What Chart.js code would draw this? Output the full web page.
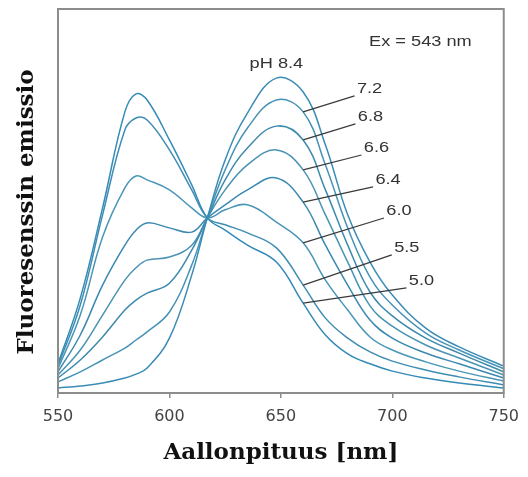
<!DOCTYPE html>
<html>
<head>
<meta charset="utf-8">
<title>Fluoresenssin emissio</title>
<script src="https://cdn.jsdelivr.net/npm/chart.js@4.4.0/dist/chart.umd.min.js"></script>
<style>
    html, body { margin: 0; padding: 0; background: #ffffff; }
    canvas { display: block; }
</style>
</head>
<body>
<canvas id="spectraChart" width="528" height="477"></canvas>
<script>
const wavelengths = [550, 560, 570, 580, 585, 590, 600, 610, 617, 625, 635, 648, 660, 670, 680, 690, 700, 715, 730, 750];

// Emission intensity (arbitrary units, 0-100) per pH
const ph84 = [1.3, 1.8, 2.6, 3.9, 4.9, 6.5, 14.3, 30.7, 45.6, 60.7, 72.9, 82.0, 78.4, 64.6, 46.4, 34.1, 25.5, 16.9, 12.0, 7.0];
const ph72 = [2.9, 5.5, 8.6, 11.7, 13.8, 15.9, 21.1, 33.3, 45.6, 58.1, 69.0, 76.3, 73.2, 59.4, 43.0, 30.2, 22.9, 15.6, 11.2, 6.3];
const ph68 = [3.9, 8.6, 14.6, 21.6, 24.2, 26.0, 28.6, 37.2, 45.6, 55.5, 63.8, 69.5, 65.9, 52.9, 38.5, 26.3, 20.1, 14.3, 10.4, 5.5];
const ph66 = [4.7, 11.2, 20.3, 29.4, 32.6, 34.6, 35.4, 38.5, 45.6, 52.9, 59.4, 63.3, 58.1, 46.4, 34.1, 22.7, 17.4, 12.5, 9.1, 4.7];
const ph64 = [5.5, 15.1, 28.1, 38.5, 42.4, 44.3, 43.0, 41.9, 45.6, 49.0, 52.9, 56.0, 49.7, 38.5, 28.1, 19.0, 14.3, 10.4, 7.6, 3.9];
const ph60 = [6.3, 20.3, 40.6, 53.4, 56.5, 55.5, 52.9, 48.2, 45.6, 47.7, 49.0, 44.5, 39.1, 29.4, 21.6, 14.6, 11.2, 8.1, 5.7, 3.1];
const ph55 = [7.0, 22.9, 46.4, 68.5, 71.6, 71.1, 63.3, 52.9, 45.6, 43.8, 41.7, 37.8, 28.1, 19.5, 14.3, 10.7, 8.3, 6.0, 4.2, 2.1];
const ph50 = [7.6, 24.7, 48.2, 73.2, 77.9, 76.3, 65.9, 54.2, 45.6, 42.4, 38.5, 34.1, 23.4, 15.1, 10.2, 7.6, 5.7, 3.9, 2.6, 1.3];

const seriesNames = ['8.4', '7.2', '6.8', '6.6', '6.4', '6.0', '5.5', '5.0'];
const seriesValues = [ph84, ph72, ph68, ph66, ph64, ph60, ph55, ph50];
const xTicks = [550, 600, 650, 700, 750];

// Label text positions (nm, intensity) for the pH labels with leader lines
const labelX = [null, 689.8, 690.2, 692.9, 698.1, 703.0, 706.5, 713.1];
const labelY = [null, 79.2, 71.9, 63.8, 55.5, 47.4, 37.8, 29.2];

const lineColors = ['#3a8cb6', '#4693b5', '#3d8aad', '#4a94b3', '#3b89b1', '#4996b6', '#3e8db3', '#348ab8'];

// draws frame, pH labels, leader lines and y title
const annotations = {
    id: 'annotations',
    afterDatasetsDraw(chart) {
        const ctx = chart.ctx;
        const area = chart.chartArea;
        const xs = chart.scales.x;
        const ys = chart.scales.y;

        ctx.save();
        ctx.strokeStyle = '#8c8c8c';
        ctx.lineWidth = 2;
        ctx.strokeRect(area.left, area.top, area.right - area.left, area.bottom - area.top);

        const drawText = (txt, cx, cy) => {
            ctx.save();
            ctx.translate(cx, cy);
            ctx.scale(1.3, 1);
            ctx.fillText(txt, 0, 0);
            ctx.restore();
        };

        ctx.font = '14px "Liberation Sans", Arial, sans-serif';
        ctx.fillStyle = '#333333';
        ctx.textAlign = 'center';
        ctx.textBaseline = 'middle';

        // leader lines from the curve at 660 nm to the label
        const idx = wavelengths.indexOf(660);
        ctx.strokeStyle = '#3a3a3a';
        ctx.lineWidth = 1.2;
        for (let i = 1; i < seriesNames.length; i++) {
            const tx = xs.getPixelForValue(labelX[i]);
            const ty = ys.getPixelForValue(labelY[i]);
            ctx.beginPath();
            ctx.moveTo(xs.getPixelForValue(660), ys.getPixelForValue(seriesValues[i][idx]));
            ctx.lineTo(tx - 15, ty + 7);
            ctx.stroke();
            drawText(seriesNames[i], tx, ty);
        }
        drawText('pH ' + seriesNames[0], xs.getPixelForValue(648.0), ys.getPixelForValue(85.7));
        drawText('Ex = 543 nm', xs.getPixelForValue(712.6), ys.getPixelForValue(91.4));

        // y axis title
        ctx.font = 'bold 23px "DejaVu Serif", serif';
        ctx.fillStyle = '#111111';
        ctx.translate(27, 212);
        ctx.rotate(-Math.PI / 2);
        ctx.fillText('Fluoresenssin emissio', 0, 0);
        ctx.restore();
    }
};

new Chart(document.getElementById('spectraChart').getContext('2d'), {
    type: 'line',
    data: {
        datasets: seriesValues.map((vals, i) => ({
            label: 'pH ' + seriesNames[i],
            data: vals.map((v, j) => ({ x: wavelengths[j], y: v })),
            borderColor: lineColors[i],
            borderWidth: 1.5,
            pointRadius: 0,
            fill: false,
            tension: 0.4
        }))
    },
    options: {
        responsive: false,
        animation: false,
        layout: { padding: { top: 9, right: 15, left: 0, bottom: 0 } },
        plugins: {
            legend: { display: false },
            tooltip: { enabled: false }
        },
        scales: {
            x: {
                type: 'linear',
                min: 550,
                max: 750,
                afterBuildTicks: axis => { axis.ticks = xTicks.map(v => ({ value: v })); },
                afterFit: axis => { axis.height = 84; },
                border: { display: false },
                grid: { display: true, drawOnChartArea: false, drawTicks: true, tickLength: 5, color: '#8c8c8c', lineWidth: 1.5 },
                ticks: {
                    color: '#444444',
                    padding: 9,
                    maxRotation: 0,
                    font: { family: '"DejaVu Sans", sans-serif', size: 16 }
                },
                title: {
                    display: true,
                    text: 'Aallonpituus [nm]',
                    color: '#111111',
                    padding: { top: 0, bottom: 10 },
                    font: { family: '"DejaVu Serif", serif', size: 23, weight: 'bold' }
                }
            },
            y: {
                min: 0,
                max: 100,
                afterFit: axis => { axis.width = 58; },
                border: { display: false },
                grid: { display: false },
                ticks: { display: false }
            }
        }
    },
    plugins: [annotations]
});
</script>
</body>
</html>
